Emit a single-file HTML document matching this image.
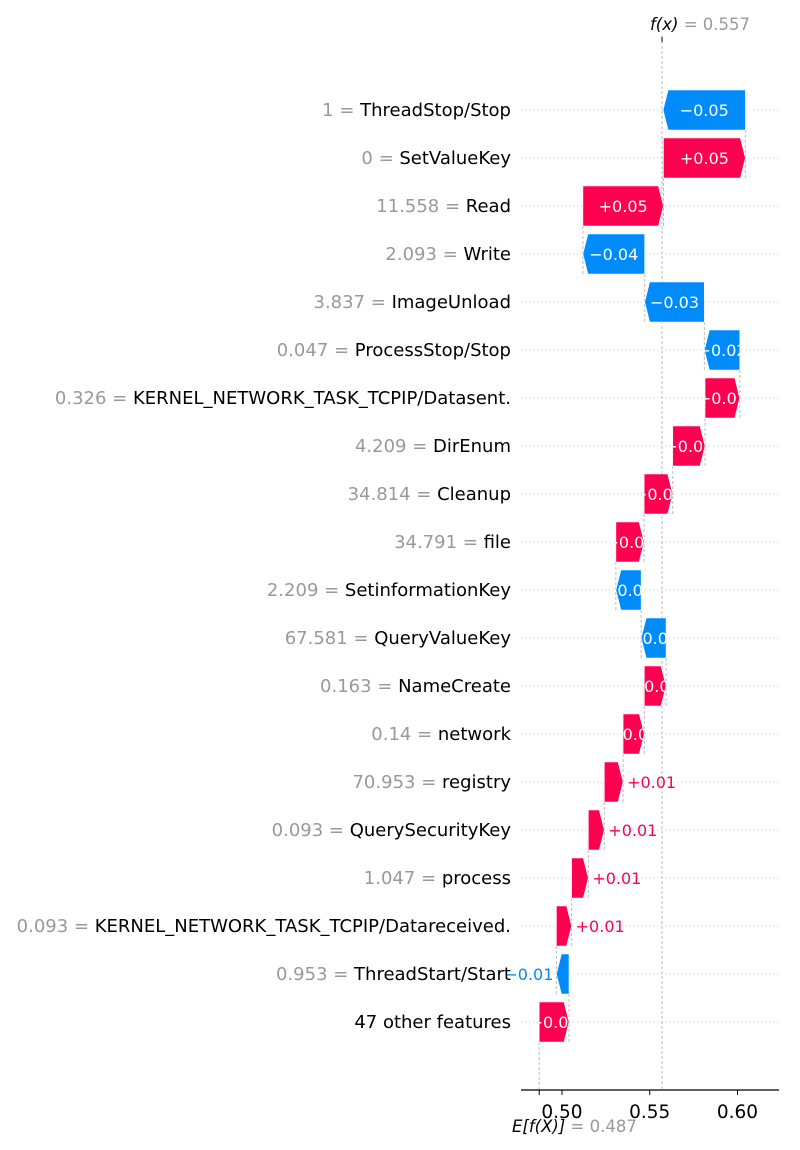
<!DOCTYPE html>
<html><head><meta charset="utf-8"><style>
html,body{margin:0;padding:0;background:#fff;}
svg{display:block;font-family:"DejaVu Sans","Liberation Sans",sans-serif;}
</style></head><body>
<svg id="chart" width="800" height="1150" viewBox="0 0 800 1150" xmlns="http://www.w3.org/2000/svg"></svg>
<script>
const featureValues = ["1","0","11.558","2.093","3.837","0.047","0.326","4.209","34.814","34.791","2.209","67.581","0.163","0.14","70.953","0.093","1.047","0.093","0.953",""];
const featureNames = ["ThreadStop/Stop","SetValueKey","Read","Write","ImageUnload","ProcessStop/Stop","KERNEL_NETWORK_TASK_TCPIP/Datasent.","DirEnum","Cleanup","file","SetinformationKey","QueryValueKey","NameCreate","network","registry","QuerySecurityKey","process","KERNEL_NETWORK_TASK_TCPIP/Datareceived.","ThreadStart/Start","47 other features"];
const shapValues = [-0.0469,0.0467,0.0459,-0.0352,-0.0340,-0.0202,0.0198,0.0184,0.0163,0.0161,-0.0144,-0.0142,0.0124,0.0121,0.0107,0.0091,0.0095,0.0087,-0.0072,0.0170];
const baseValue = 0.487;
const fxValue = 0.557;
const xTicks = [0.50,0.55,0.60];

const svg = document.getElementById('chart');
const NS = 'http://www.w3.org/2000/svg';
function mk(tag, attrs, parent){const e=document.createElementNS(NS,tag);for(const k in attrs)e.setAttribute(k,attrs[k]);(parent||svg).appendChild(e);return e;}
const xScale = v => 562 + (v - 0.5) * 1755;
const rowY = i => 110 + 48 * i;
const RED = '#ff0051', BLUE = '#008bfb';
const n = featureNames.length;
const fmt = v => (v < 0 ? '\u2212' : '+') + Math.abs(v).toFixed(2);

for (let i = 0; i < n; i++) {
  const g = mk('line',{x1:521,x2:779,y1:rowY(i),y2:rowY(i),stroke:'#ccc','stroke-width':1,'stroke-dasharray':'1,3'});
  
  
}
const fl = mk('line',{x1:xScale(fxValue),x2:xScale(fxValue),y1:36,y2:1090,stroke:'#bbb','stroke-width':1,'stroke-dasharray':'3,2'});


const el0 = mk('line',{x1:xScale(baseValue),x2:xScale(baseValue),y1:rowY(n-1)+20,y2:1090,stroke:'#bbb','stroke-width':1,'stroke-dasharray':'3,2'});



const starts = new Array(n), ends = new Array(n);
let cum = baseValue;
for (let i = n - 1; i >= 0; i--) { starts[i] = cum; cum += shapValues[i]; ends[i] = cum; }

for (let i = 0; i < n - 1; i++) {
  const x = xScale(starts[i]);
  const c = mk('line',{x1:x,x2:x,y1:rowY(i),y2:rowY(i+1)+20,stroke:'#bbb','stroke-width':1,'stroke-dasharray':'3,2'});
  
  
}

const defs = mk('defs',{});
for (let i = 0; i < n; i++) {
  const v = shapValues[i], y = rowY(i);
  const x0 = xScale(starts[i]), x1 = xScale(ends[i]);
  const w = Math.abs(x1 - x0), h = 40, hd = Math.min(5, w * 0.4);
  const col = v >= 0 ? RED : BLUE;
  let pts;
  if (v >= 0) pts = [[x0,y-h/2],[x1-hd,y-h/2],[x1,y],[x1-hd,y+h/2],[x0,y+h/2]];
  else pts = [[x0,y-h/2],[x1+hd,y-h/2],[x1,y],[x1+hd,y+h/2],[x0,y+h/2]];
  const ptsStr = pts.map(p=>p.join(',')).join(' ');
  const cp = mk('clipPath',{id:'cp'+i},defs);
  mk('polygon',{points:ptsStr},cp);
  const bar = mk('polygon',{points:ptsStr,fill:col,stroke:'#fff','stroke-width':0.6});
  
  
  let t;
  if (w >= 20) {
    t = mk('text',{x:(x0+x1)/2,y:y+6,'text-anchor':'middle','font-size':16,fill:'#fff','clip-path':'url(#cp'+i+')'});
  } else if (v >= 0) {
    t = mk('text',{x:x1+4,y:y+6,'text-anchor':'start','font-size':16,fill:RED});
  } else {
    t = mk('text',{x:x1-3,y:y+6,'text-anchor':'end','font-size':16,fill:BLUE});
  }
  t.textContent = fmt(v);
  
  
  const lab = mk('text',{x:511,y:y+6,'text-anchor':'end','font-size':18,fill:'#000'});
  
  
  if (featureValues[i] !== '') {
    const s1 = mk('tspan',{fill:'#999'},lab); s1.textContent = featureValues[i] + ' = ';
  }
  const s2 = mk('tspan',{},lab); s2.textContent = featureNames[i];
}

const ax = mk('line',{x1:521,x2:779,y1:1090,y2:1090,stroke:'#000','stroke-width':1.2});


xTicks.forEach(tv => {
  const x = xScale(tv);
  mk('line',{x1:x,x2:x,y1:1090,y2:1095,stroke:'#000','stroke-width':1});
  const tl = mk('text',{x:x,y:1118,'text-anchor':'middle','font-size':18.5,fill:'#000'});
  tl.textContent = tv.toFixed(2);
  
  
});
mk('line',{x1:xScale(baseValue),x2:xScale(baseValue),y1:1090,y2:1095,stroke:'#000','stroke-width':1});
mk('line',{x1:xScale(fxValue),x2:xScale(fxValue),y1:37,y2:42,stroke:'#000','stroke-width':1});

const et = mk('text',{x:512,y:1132,'font-size':16.5,fill:'#000'});


const e1 = mk('tspan',{'font-style':'italic'},et); e1.textContent='E[f(X)]';
const e2 = mk('tspan',{fill:'#999'},et); e2.textContent=' = ' + baseValue.toFixed(3);

const ft = mk('text',{x:650,y:30,'font-size':16.5,fill:'#000'});


const f1 = mk('tspan',{'font-style':'italic'},ft); f1.textContent='f(x)';
const f2 = mk('tspan',{fill:'#999'},ft); f2.textContent=' = ' + fxValue.toFixed(3);
</script>
</body></html>
